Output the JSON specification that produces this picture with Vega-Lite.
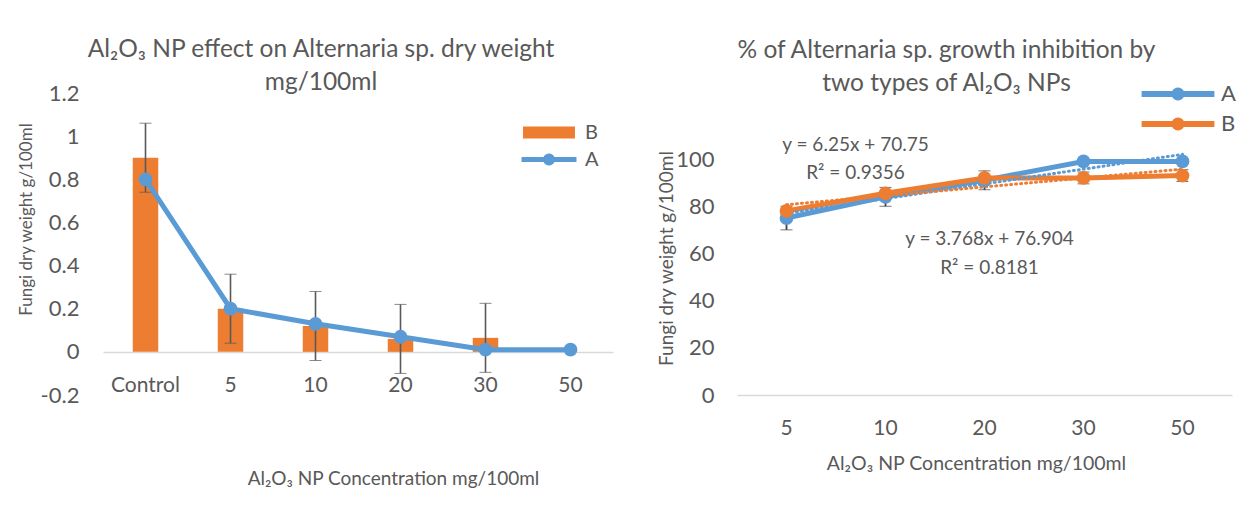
{
  "$schema": "https://vega.github.io/schema/vega-lite/v6.json",
  "background": "white",
  "padding": {"left": 16, "top": 36, "right": 0, "bottom": 0},
  "config": {
    "font": "Lato",
    "view": {"stroke": null},
    "axis": {"labelColor": "#595959", "titleColor": "#595959", "grid": false, "ticks": false, "domain": false, "labelFont": "Lato", "titleFont": "Lato", "titleFontWeight": "normal"},
    "title": {"color": "#595959", "fontWeight": "normal", "font": "Lato"},
    "legend": {"labelColor": "#595959", "labelFont": "Lato", "padding": 0, "symbolStrokeWidth": 0}
  },
  "resolve": {"scale": {"color": "independent"}, "legend": {"color": "independent"}},
  "datasets": {
    "left": [
      {"conc": "Control", "series": "A", "value": 0.8, "err": null},
      {"conc": "5", "series": "A", "value": 0.2, "err": null},
      {"conc": "10", "series": "A", "value": 0.13, "err": null},
      {"conc": "20", "series": "A", "value": 0.07, "err": null},
      {"conc": "30", "series": "A", "value": 0.01, "err": null},
      {"conc": "50", "series": "A", "value": 0.01, "err": null},
      {"conc": "Control", "series": "B", "value": 0.9, "err": 0.16},
      {"conc": "5", "series": "B", "value": 0.2, "err": 0.16},
      {"conc": "10", "series": "B", "value": 0.12, "err": 0.16},
      {"conc": "20", "series": "B", "value": 0.06, "err": 0.16},
      {"conc": "30", "series": "B", "value": 0.065, "err": 0.16},
      {"conc": "50", "series": "B", "value": 0, "err": null}
    ],
    "right": [
      {"conc": "5", "series": "A", "value": 75, "err": 5},
      {"conc": "10", "series": "A", "value": 84, "err": 4},
      {"conc": "20", "series": "A", "value": 91, "err": 4},
      {"conc": "30", "series": "A", "value": 99, "err": null},
      {"conc": "50", "series": "A", "value": 99, "err": null},
      {"conc": "5", "series": "B", "value": 78, "err": null},
      {"conc": "10", "series": "B", "value": 85.5, "err": null},
      {"conc": "20", "series": "B", "value": 92, "err": null},
      {"conc": "30", "series": "B", "value": 92, "err": 2.5},
      {"conc": "50", "series": "B", "value": 93, "err": 2.5}
    ],
    "trend": [
      {"conc": "5", "series": "A", "value": 77.0},
      {"conc": "50", "series": "A", "value": 102.0},
      {"conc": "5", "series": "B", "value": 80.67},
      {"conc": "50", "series": "B", "value": 95.74}
    ],
    "annot": [
      {"conc": "10", "value": 106, "label": "y = 6.25x + 70.75\nR² = 0.9356", "which": "A"},
      {"conc": "20", "value": 66.3, "label": "y = 3.768x + 76.904\nR² = 0.8181", "which": "B"}
    ]
  },
  "spacing": 124,
  "bounds": "flush",
  "hconcat": [
    {
      "width": 510,
      "height": 302,
      "title": {"text": ["Al₂O₃ NP effect on Alternaria sp. dry weight", "mg/100ml"], "fontSize": 24.5, "lineHeight": 33, "dx": -37, "offset": -13, "frame": "group", "anchor": "middle"},
      "data": {"name": "left"},
      "encoding": {
        "x": {"field": "conc", "type": "nominal", "sort": ["Control", "5", "10", "20", "30", "50"],
          "scale": {"paddingInner": 0, "paddingOuter": 0},
          "axis": {"title": "Al₂O₃ NP Concentration mg/100ml", "labelAngle": 0, "labelFontSize": 21, "labelPadding": 22, "domain": true, "domainColor": "#D9D9D9", "domainWidth": 1.5, "offset": -43, "titleFontSize": 19, "titleX": 290, "titleY": 126, "titleBaseline": "middle", "titleAlign": "center"}},
        "y": {"field": "value", "type": "quantitative",
          "scale": {"domain": [-0.2, 1.2], "nice": false, "zero": false},
          "axis": {"title": "Fungi dry weight g/100ml", "values": [-0.2, 0, 0.2, 0.4, 0.6, 0.8, 1, 1.2], "labelExpr": "datum.value < 0 ? '-' + format(-datum.value, '~g') : format(datum.value, '~g')", "labelFontSize": 22, "labelPadding": 24, "titleFontSize": 17, "titleX": -77, "titleY": 126, "titleAngle": -90, "titleBaseline": "middle", "titleAlign": "center"}}
      },
      "layer": [
        {"transform": [{"filter": "datum.series === 'B'"}], "mark": {"type": "bar", "color": "#ED7D31", "width": {"band": 0.3}}},
        {"transform": [{"filter": "datum.series === 'B' && datum.err != null"}], "mark": {"type": "errorbar", "ticks": {"size": 12, "color": "#595959", "strokeWidth": 1.6}, "rule": {"color": "#595959", "strokeWidth": 1.6}}, "encoding": {"yError": {"field": "err"}}},
        {"transform": [{"filter": "datum.series === 'A'"}], "mark": {"type": "line", "color": "#5B9BD5", "strokeWidth": 5}},
        {"transform": [{"filter": "datum.series === 'A'"}], "mark": {"type": "point", "filled": true, "shape": "circle", "size": 190, "color": "#5B9BD5", "opacity": 1}},
        {"mark": {"type": "point", "filled": true, "opacity": 0},
          "encoding": {
            "color": {"field": "series", "type": "nominal", "scale": {"domain": ["B", "A"], "range": ["#ED7D31", "#5B9BD5"]},
              "legend": {"title": null, "orient": "none", "legendX": 436, "legendY": 29.5, "symbolSize": 144, "symbolOpacity": 1, "labelFontSize": 20, "labelOffset": 26, "rowPadding": 7,
                "encode": {"symbols": {"update": {
                  "shape": {"signal": "datum.value === 'B' ? 'M-4.33,-1H4.33V1H-4.33Z' : 'M-4.58,-0.42H-0.908A1,1,0,0,1,0.908,-0.42H4.58V0.42H0.908A1,1,0,0,1,-0.908,0.42H-4.58Z'"},
                  "opacity": {"value": 1},
                  "fill": {"signal": "datum.value === 'B' ? '#ED7D31' : '#5B9BD5'"}}}}}}
          }}
      ]
    },
    {
      "width": 495,
      "height": 302,
      "title": {"text": ["% of Alternaria sp. growth inhibition by", "two types of Al₂O₃ NPs"], "fontSize": 24.5, "lineHeight": 33, "dx": -38, "offset": -13, "frame": "group", "anchor": "middle"},
      "data": {"name": "right"},
      "encoding": {
        "x": {"field": "conc", "type": "nominal", "sort": ["5", "10", "20", "30", "50"],
          "scale": {"paddingInner": 0, "paddingOuter": 0},
          "axis": {"title": "Al₂O₃ NP Concentration mg/100ml", "labelAngle": 0, "labelFontSize": 21, "labelPadding": 22, "domain": true, "domainColor": "#D9D9D9", "domainWidth": 1.5, "titleFontSize": 19.5, "titleX": 239, "titleY": 68, "titleBaseline": "middle", "titleAlign": "center"}},
        "y": {"field": "value", "type": "quantitative",
          "scale": {"domain": [0, 128], "nice": false, "zero": true},
          "axis": {"title": "Fungi dry weight g/100ml", "values": [0, 20, 40, 60, 80, 100], "labelFontSize": 22, "labelPadding": 23, "titleFontSize": 19, "titleX": -71, "titleY": 165, "titleAngle": -90, "titleBaseline": "middle", "titleAlign": "center"}},
        "color": {"field": "series", "type": "nominal", "scale": {"domain": ["A", "B"], "range": ["#5B9BD5", "#ED7D31"]},
          "legend": {"title": null, "orient": "none", "legendX": 430, "legendY": -10, "symbolSize": 169, "symbolOpacity": 1, "labelFontSize": 22, "labelOffset": 32, "rowPadding": 8,
            "encode": {"symbols": {"update": {
              "shape": {"value": "M-5.6,-0.46H-0.888A1,1,0,0,1,0.888,-0.46H5.6V0.46H0.888A1,1,0,0,1,-0.888,0.46H-5.6Z"},
              "opacity": {"value": 1},
              "strokeWidth": {"value": 0},
              "fill": {"signal": "datum.value === 'A' ? '#5B9BD5' : '#ED7D31'"}}}}}}
      },
      "layer": [
        {"transform": [{"filter": "datum.err != null"}], "mark": {"type": "errorbar", "ticks": {"size": 12, "color": "#404040", "strokeWidth": 1.8}, "rule": {"color": "#404040", "strokeWidth": 1.8}}, "encoding": {"yError": {"field": "err"}, "color": {"value": "#404040"}}},
        {"mark": {"type": "line", "strokeWidth": 5}},
        {"data": {"name": "trend"}, "mark": {"type": "line", "strokeWidth": 3, "strokeDash": [1, 4], "strokeCap": "round"}},
        {"mark": {"type": "point", "filled": true, "shape": "circle", "size": 190, "opacity": 1}},
        {"data": {"name": "annot"}, "transform": [{"filter": "datum.which === 'A'"}], "mark": {"type": "text", "lineBreak": "\n", "fontSize": 19, "lineHeight": 28, "dx": -30, "baseline": "middle"}, "encoding": {"text": {"field": "label"}, "color": {"value": "#595959"}}},
        {"data": {"name": "annot"}, "transform": [{"filter": "datum.which === 'B'"}], "mark": {"type": "text", "lineBreak": "\n", "fontSize": 19, "lineHeight": 29, "dx": 5, "baseline": "middle"}, "encoding": {"text": {"field": "label"}, "color": {"value": "#595959"}}}
      ]
    }
  ]
}
